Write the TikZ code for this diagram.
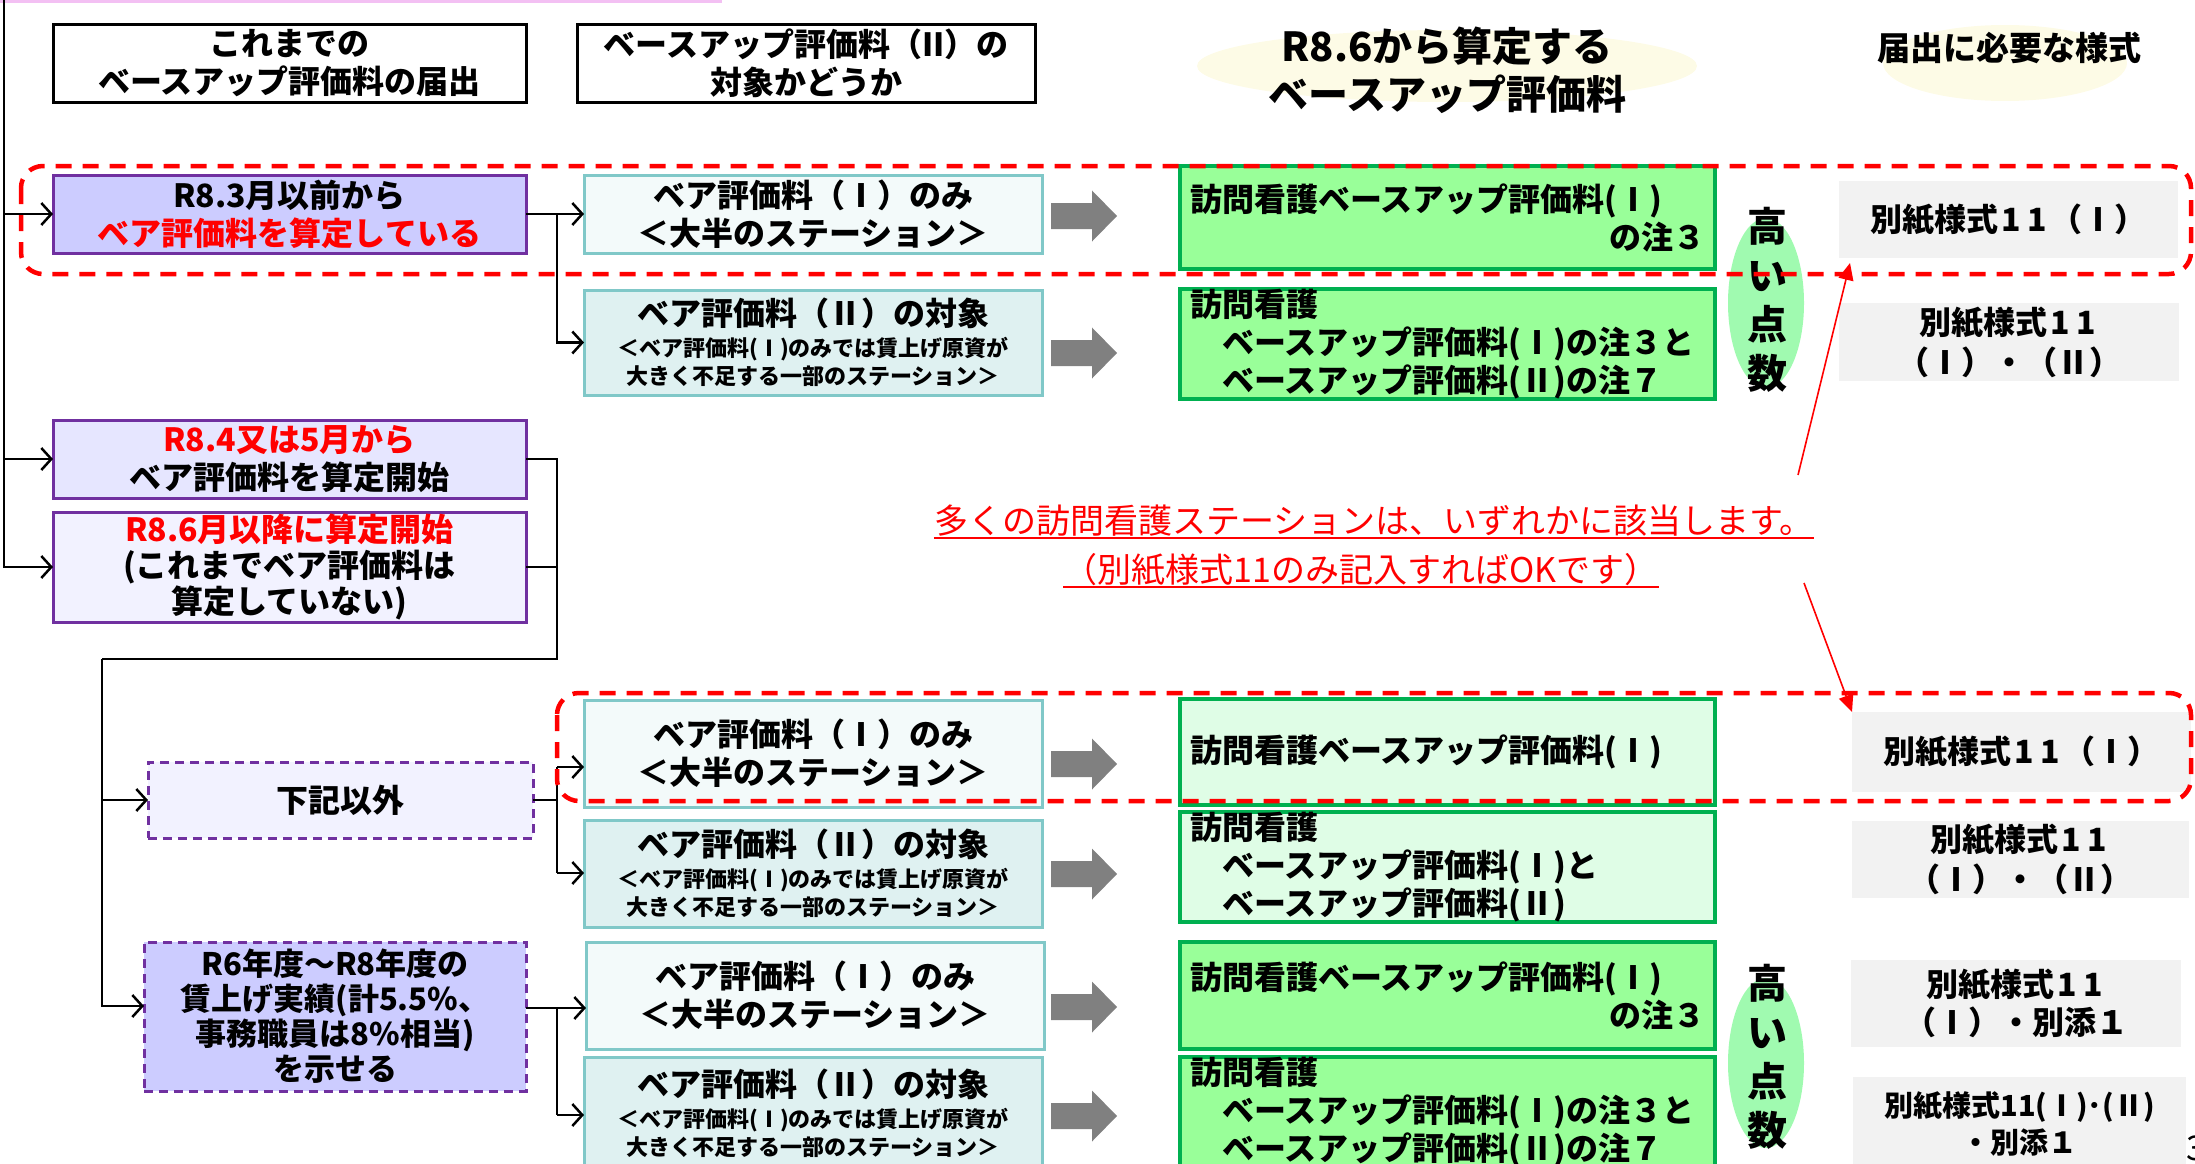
\documentclass[tikz,border=0pt]{standalone}
\usepackage{fontspec}
\setmainfont{Noto Sans CJK JP}
\usetikzlibrary{arrows.meta,calc}
\definecolor{purp}{HTML}{7030A0}
\definecolor{lav}{HTML}{CCCCFF}
\definecolor{lav2}{HTML}{E6E6FF}
\definecolor{lav3}{HTML}{F2F2FF}
\definecolor{tealb}{HTML}{80C8C8}
\definecolor{tfa}{HTML}{F3FAFA}
\definecolor{tfb}{HTML}{DFF1F1}
\definecolor{grnb}{HTML}{00B050}
\definecolor{grnf}{HTML}{99FF99}
\definecolor{grnl}{HTML}{DFFDE6}
\definecolor{grayb}{HTML}{F2F2F2}
\definecolor{garr}{HTML}{808080}
\definecolor{cream}{HTML}{FDFBE6}
\definecolor{ellg}{HTML}{A0FAB0}
\definecolor{pinkl}{HTML}{F3C0F3}
\newcommand\fsz[2]{\fontsize{#1pt}{#2pt}\selectfont}
\newcommand\one{\makebox[0.8em]{1}}
\newcommand\mybox[7]{%
  \pgfmathsetmacro\bxw{#4-#2}%
  \pgfmathsetmacro\bxh{#5-#3}%
  \node[#6, minimum width=\bxw pt, minimum height=\bxh pt] (#1) at ({(#2+#4)/2},{(#3+#5)/2}) {#7};}
\newcommand\garrow[1]{%
  \fill[garr] (1051,{#1-13}) -- (1092,{#1-13}) -- (1092,{#1-25.5}) -- (1117,#1) -- (1092,{#1+25.5}) -- (1092,{#1+13}) -- (1051,{#1+13}) -- cycle;}
\tikzset{
  bxbase/.style={inner sep=0pt, outer sep=0pt, align=center, font=\bfseries\fsz{32}{38}},
  hdr/.style={bxbase, draw=black, line width=3pt, fill=white},
  pbox/.style={bxbase, draw=purp, line width=3pt},
  pdash/.style={bxbase, draw=purp, line width=3pt, dash pattern=on 9pt off 6pt},
  tbox/.style={bxbase, draw=tealb, line width=3pt},
  gbox/.style={bxbase, draw=grnb, line width=4pt},
  sbox/.style={bxbase, fill=grayb},
  conn/.style={line width=2.5pt, black},
  arr/.style={conn, -{Straight Barb[length=10pt,width=22pt]}},
  dashbox/.style={draw=red, line width=4.5pt, dash pattern=on 16pt off 11pt, rounded corners=22pt},
  note/.style={text=red, font=\fsz{34}{40}, inner sep=0pt},
  tall/.style={font=\bfseries\fsz{40}{49}, align=center, inner sep=0pt},
  redarr/.style={red, line width=1.6pt, -{Triangle[length=17pt,width=15pt]}},
  uline/.style={red, line width=2pt}
}
\begin{document}
\begin{tikzpicture}[x=1pt, y=-1pt]
\useasboundingbox (0,0) rectangle (2195,1164);
\fill[pinkl] (0,0) rectangle (722,3);

% headers
\mybox{H1}{53}{25}{526}{102}{hdr}{これまでの\\ベースアップ評価料の届出}
\mybox{H2}{577}{25}{1035}{102}{hdr}{ベースアップ評価料（II）の\\対象かどうか}
\fill[cream] (1447,66) ellipse [x radius=250pt, y radius=36pt];
\node[font=\bfseries\fsz{40}{48}, align=center, inner sep=0pt] (H3) at (1447,70) {R8.6から算定する\\ベースアップ評価料};
\fill[cream] (2005,63) ellipse [x radius=122pt, y radius=38pt];
\node[font=\bfseries\fsz{33}{38}, inner sep=0pt] (H4) at (2009,48) {届出に必要な様式};

% left column
\mybox{R1}{53}{175}{526}{253}{pbox,fill=lav}{R8.3月以前から\\\textcolor{red}{ベア評価料を算定している}}
\mybox{R3}{53}{420}{526}{498}{pbox,fill=lav2}{\textcolor{red}{R8.4又は5月から}\\ベア評価料を算定開始}
\mybox{R4}{53}{512}{526}{622}{pbox,fill=lav3,font=\bfseries\fsz{32}{36}}{\textcolor{red}{R8.6月以降に算定開始}\\(これまでベア評価料は\\算定していない)}
\mybox{R5}{148}{762}{533}{838}{pdash,fill=lav3}{下記以外}
\mybox{R7}{144}{942}{526}{1091}{pdash,fill=lav,font=\bfseries\fsz{31}{35}}{R6年度～R8年度の\\賃上げ実績(計5.5\%、\\事務職員は8\%相当)\\を示せる}

% second column
\mybox{I1}{584}{175}{1042}{253}{tbox,fill=tfa}{ベア評価料（Ⅰ）のみ\\＜大半のステーション＞}
\mybox{II2}{584}{290}{1042}{395}{tbox,fill=tfb,font=\bfseries\fsz{22}{28}}{{\fsz{32}{38}ベア評価料（Ⅱ）の対象}\\[3pt]＜ベア評価料(Ⅰ)のみでは賃上げ原資が\\大きく不足する一部のステーション＞}
\mybox{I5}{584}{700}{1042}{807}{tbox,fill=tfa}{ベア評価料（Ⅰ）のみ\\＜大半のステーション＞}
\mybox{II6}{584}{820}{1042}{927}{tbox,fill=tfb,font=\bfseries\fsz{22}{28}}{{\fsz{32}{38}ベア評価料（Ⅱ）の対象}\\[3pt]＜ベア評価料(Ⅰ)のみでは賃上げ原資が\\大きく不足する一部のステーション＞}
\mybox{I7}{586}{942}{1044}{1049}{tbox,fill=tfa}{ベア評価料（Ⅰ）のみ\\＜大半のステーション＞}
\mybox{II8}{584}{1057}{1042}{1170}{tbox,fill=tfb,font=\bfseries\fsz{22}{28}}{{\fsz{32}{38}ベア評価料（Ⅱ）の対象}\\[3pt]＜ベア評価料(Ⅰ)のみでは賃上げ原資が\\大きく不足する一部のステーション＞}

% gray block arrows
\garrow{216}
\garrow{353}
\garrow{764}
\garrow{874}
\garrow{1007}
\garrow{1116}

% green boxes
\mybox{G1}{1180}{166}{1715}{269}{gbox,fill=grnf}{\parbox{515pt}{訪問看護ベースアップ評価料(Ⅰ)\\\hspace*{\fill}の注３}}
\mybox{G2}{1180}{290}{1715}{398}{gbox,fill=grnf}{\parbox{515pt}{訪問看護\\\hspace*{32pt}ベースアップ評価料(Ⅰ)の注３と\\\hspace*{32pt}ベースアップ評価料(Ⅱ)の注７}}
\mybox{G5}{1180}{699}{1715}{805}{gbox,fill=grnl}{\parbox{515pt}{訪問看護ベースアップ評価料(Ⅰ)}}
\mybox{G6}{1180}{813}{1715}{921}{gbox,fill=grnl}{\parbox{515pt}{訪問看護\\\hspace*{32pt}ベースアップ評価料(Ⅰ)と\\\hspace*{32pt}ベースアップ評価料(Ⅱ)}}
\mybox{G7}{1180}{942}{1715}{1049}{gbox,fill=grnf}{\parbox{515pt}{訪問看護ベースアップ評価料(Ⅰ)\\\hspace*{\fill}の注３}}
\mybox{G8}{1180}{1058}{1715}{1166}{gbox,fill=grnf}{\parbox{515pt}{訪問看護\\\hspace*{32pt}ベースアップ評価料(Ⅰ)の注３と\\\hspace*{32pt}ベースアップ評価料(Ⅱ)の注７}}

% high points ellipses
\fill[ellg] (1766,303) ellipse [x radius=38pt, y radius=85pt];
\node[tall] (HP1) at (1767,300) {高\\い\\点\\数};
\fill[ellg] (1766,1063) ellipse [x radius=38pt, y radius=85pt];
\node[tall] (HP2) at (1767,1057) {高\\い\\点\\数};

% forms
\mybox{S1}{1839}{181}{2178}{258}{sbox}{別紙様式\one\one（Ⅰ）}
\mybox{S2}{1839}{303}{2179}{381}{sbox,font=\bfseries\fsz{32}{40}}{別紙様式\one\one\\（Ⅰ）・（Ⅱ）}
\mybox{S5}{1852}{712}{2191}{792}{sbox}{別紙様式\one\one（Ⅰ）}
\mybox{S6}{1852}{821}{2189}{898}{sbox,font=\bfseries\fsz{32}{40}}{別紙様式\one\one\\（Ⅰ）・（Ⅱ）}
\mybox{S7}{1851}{960}{2181}{1047}{sbox}{別紙様式\one\one\\（Ⅰ）・別添１}
\mybox{S8}{1853}{1077}{2186}{1170}{sbox,font=\bfseries\fsz{29}{37}}{別紙様式11(Ⅰ)･(Ⅱ)\\・別添１}
\node[font=\fsz{34}{40}, anchor=west, inner sep=0pt] (pg) at (2186,1148) {3};

% connectors
\coordinate (T0) at (4,0);
\draw[arr] (T0) |- (R4.west);
\draw[arr] (T0 |- R1.west) -- (R1.west);
\draw[arr] (T0 |- R3.west) -- (R3.west);

\coordinate (J1) at (557,214);
\draw[arr] (R1.east) -- (I1.west);
\draw[arr] (J1) |- (II2.west);

\coordinate (J2) at (557,659);
\coordinate (J3) at (102,659);
\coordinate (K7) at (144,1006);
\draw[conn] (R3.east) -| (J2) -- (J3);
\draw[conn] (R4.east) -- (R4.east -| J2);
\draw[arr] (J3) |- (K7);
\draw[arr] (J3 |- R5.west) -- (R5.west);

\coordinate (J5a) at (557,767);
\coordinate (J5b) at (557,873);
\draw[conn] (R5.east) -- (R5.east -| J5a);
\draw[conn] (J5a) -- (J5b);
\draw[arr] (J5a) -- (J5a -| I5.west);
\draw[arr] (J5b) -- (J5b -| II6.west);

\coordinate (J7a) at (557,1008);
\coordinate (J7b) at (557,1115);
\draw[conn] (J7a -| R7.east) -- (J7a);
\draw[conn] (J7a) -- (J7b);
\draw[arr] (J7a) -- (J7a -| I7.west);
\draw[arr] (J7b) -- (J7b -| II8.west);

% red dashed groups
\draw[dashbox] (21,166) rectangle (2191,274);
\draw[dashbox] (557,693) rectangle (2191,801);

% note
\node[note] (M1) at (1374,521) {多くの訪問看護ステーションは、いずれかに該当します。};
\node[note] (M2) at (1361,570) {（別紙様式11のみ記入すればOKです）};
\draw[uline] ([yshift=-4pt]M1.base west) -- ([yshift=-4pt]M1.base east);
\draw[uline] ([yshift=-4pt]M2.base west) -- ([yshift=-4pt]M2.base east);
\coordinate (RA1) at (1798,475);
\coordinate (RA2) at (1804,583);
\draw[redarr] (RA1) -- ([xshift=11pt,yshift=-5pt]S1.south west);
\draw[redarr] (RA2) -- (S5.north west);
\end{tikzpicture}
\end{document}
